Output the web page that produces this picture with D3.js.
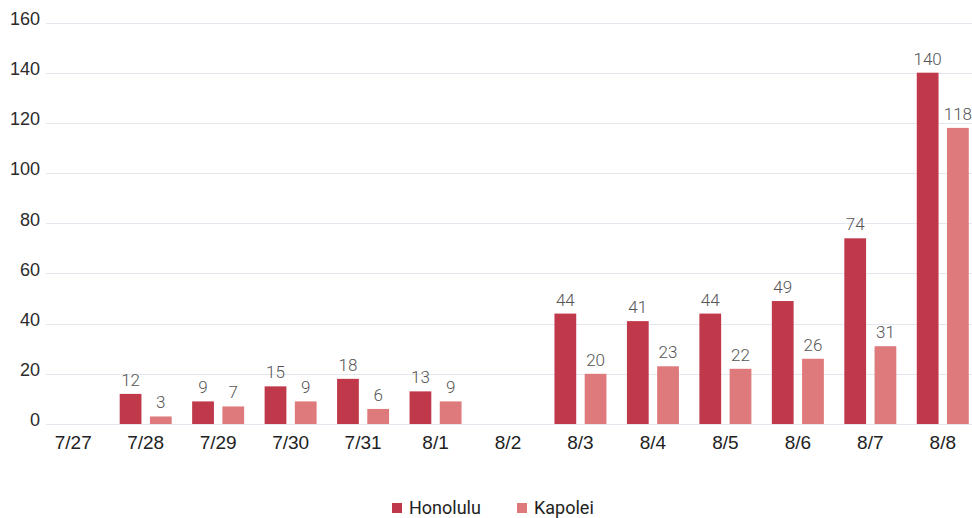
<!DOCTYPE html>
<html>
<head>
<meta charset="utf-8">
<script src="https://cdn.jsdelivr.net/npm/d3@7"></script>
<style>
  body { margin: 0; background: #fff; }
  svg { font-family: Roboto, "Noto Sans", sans-serif; }
  .grid line { stroke: #e4e8ee; stroke-width: 1; }
  .axis--y text { font-size: 18px; fill: #2b2b2b; }
  .axis--x text { font-size: 19px; fill: #222; }
  .value { font-size: 17px; fill: #555; font-weight: 300; }
  .legend text { font-size: 18px; fill: #222; }
</style>
</head>
<body>
<svg width="972" height="518"></svg>
<script>
// Data
const dates = ["7/27", "7/28", "7/29", "7/30", "7/31", "8/1", "8/2", "8/3", "8/4", "8/5", "8/6", "8/7", "8/8"];
const honolulu = [null, 12, 9, 15, 18, 13, null, 44, 41, 44, 49, 74, 140];
const kapolei = [null, 3, 7, 9, 6, 9, null, 20, 23, 22, 26, 31, 118];
const seriesNames = ["Honolulu", "Kapolei"];
const seriesColors = ["#c0394b", "#de797c"];
const yTicks = [0, 20, 40, 60, 80, 100, 120, 140, 160];

var rows = dates.map((d, i) => ({date: d, Honolulu: honolulu[i], Kapolei: kapolei[i]}));

var pArea = [46, 22.5, 972, 424]; // left, top, right, bottom

var svg = d3.select("svg");
var g = svg.append("g");

var xScale = d3.scaleBand()
  .domain(dates)
  .range([37, 979]);

var inner = d3.scaleBand()
  .domain(seriesNames)
  .range([xScale.bandwidth() / 2 - 26, xScale.bandwidth() / 2 + 26])
  .paddingInner(0.28);

var yScale = d3.scaleLinear()
  .domain([0, 160])
  .range([pArea[3], pArea[1]]);

// gridlines
g.append("g")
  .attr("class", "grid")
  .selectAll("line")
  .data(yTicks)
  .join("line")
    .attr("x1", pArea[0])
    .attr("x2", pArea[2])
    .attr("y1", d => Math.round(yScale(d)) + 0.5)
    .attr("y2", d => Math.round(yScale(d)) + 0.5);

// y-axis labels
var yAxis = g.append("g")
  .attr("class", "axis axis--y")
  .attr("transform", `translate(40, 0)`)
  .call(d3.axisLeft(yScale).tickValues(yTicks).tickSize(0).tickPadding(0));
yAxis.select(".domain").remove();
yAxis.selectAll("text").attr("dy", "0.1em");

// x-axis labels
var xAxis = g.append("g")
  .attr("class", "axis axis--x")
  .attr("transform", `translate(0, ${pArea[3]})`)
  .call(d3.axisBottom(xScale).tickSize(0).tickPadding(10));
xAxis.select(".domain").remove();
xAxis.selectAll("text").attr("dy", "0.8em");

// bars
var groups = g.selectAll(".group")
  .data(rows)
  .join("g")
    .attr("class", "group")
    .attr("transform", d => `translate(${xScale(d.date)}, 0)`);

seriesNames.forEach((name, si) => {
  var withVal = groups.filter(d => d[name] != null);

  withVal.append("rect")
    .attr("x", inner(name))
    .attr("width", inner.bandwidth())
    .attr("y", d => yScale(d[name]))
    .attr("height", d => yScale(0) - yScale(d[name]))
    .attr("fill", seriesColors[si]);

  withVal.append("text")
    .attr("class", "value")
    .attr("x", inner(name) + inner.bandwidth() / 2)
    .attr("y", d => yScale(d[name]) - 8)
    .attr("text-anchor", "middle")
    .text(d => d[name]);
});

// legend
var legend = g.append("g").attr("class", "legend");
var legendX = [392, 517];
seriesNames.forEach((name, i) => {
  var item = legend.append("g").attr("transform", `translate(${legendX[i]}, 503)`);
  item.append("rect")
    .attr("width", 10)
    .attr("height", 10)
    .attr("fill", seriesColors[i]);
  item.append("text")
    .attr("x", 17)
    .attr("y", 5)
    .attr("dy", "0.35em")
    .text(name);
});
</script>
</body>
</html>
